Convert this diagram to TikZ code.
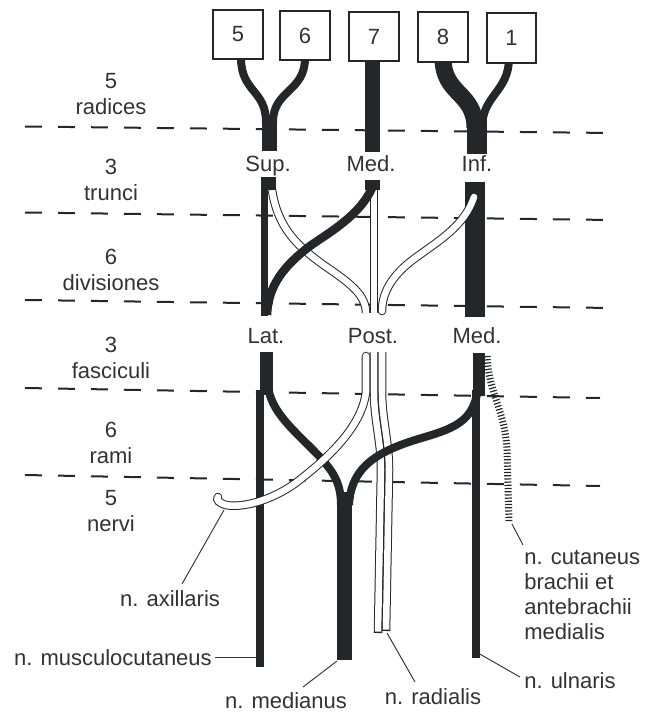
\documentclass[tikz,border=0pt]{standalone}
\usepackage{fontspec}
\setmainfont{Liberation Sans}
\definecolor{ink}{RGB}{36,38,42}
\definecolor{txt}{RGB}{50,50,50}
\newcommand\wstrand[2][]{\draw[outer,#1] #2; \draw[inner,#1] #2;}
\begin{document}
\begin{tikzpicture}[x=0.75pt,y=-0.75pt,
  lbl/.style={font=\fontsize{16.5}{19.5}\selectfont,text=txt,inner sep=0pt,align=center},
  numbox/.style={draw=ink,line width=1.5pt,fill=white,minimum width=37pt,minimum height=37pt,inner sep=0pt,font=\fontsize{16.5}{19.5}\selectfont,text=txt},
  level/.style={draw=ink,line width=1.5pt,dash pattern=on 12.75pt off 12pt},
  nerve/.style={draw=ink,line width=6pt},
  outer/.style={draw=ink,line width=6.4pt},
  inner/.style={draw=white,line width=4.9pt},
  lead/.style={draw=txt,line width=0.7pt},
  hatch/.style={draw=ink,line width=5.25pt,dash pattern=on 0.9pt off 1.5pt},
]
\useasboundingbox (0,0) rectangle (649,714);

% ---------- level lines ----------
\coordinate (d1a) at (25,126.5); \coordinate (d1b) at (612,133);
\coordinate (d2a) at (25,212.5); \coordinate (d2b) at (612,220);
\coordinate (d3a) at (25,300);   \coordinate (d3b) at (612,308);
\coordinate (d4a) at (25,388);   \coordinate (d4b) at (600,398);
\coordinate (d5a) at (25,475);   \coordinate (d5b) at (600,486);
\foreach \i in {1,...,5} {\draw[level] (d\i a) -- (d\i b);}

% ---------- level labels ----------
\node[lbl] (lv1) at (111,94)  {5\\radices};
\node[lbl] (lv2) at (111,180) {3\\trunci};
\node[lbl] (lv3) at (111,269.5) {6\\divisiones};
\node[lbl] (lv4) at (111,358) {3\\fasciculi};
\node[lbl] (lv5) at (111,443) {6\\rami};
\node[lbl] (lv6) at (111,511) {5\\nervi};

% ---------- radices and trunci ----------
\draw[nerve] (241,58) .. controls (241,92) and (266,90) .. (266,122);
\draw[nerve] (305,58) .. controls (305,92) and (273,90) .. (273,122);
\draw[ink,line width=11.25pt] (269.5,115) -- (269.5,151);
\draw[ink,line width=11.25pt] (372.5,58) -- (372.5,152);
\draw[ink,line width=12.75pt] (443,58) .. controls (443,95) and (475,92) .. (475,128);
\draw[nerve] (509,58) .. controls (509,92) and (482,95) .. (482,128);
\draw[ink,line width=15pt] (477,120) -- (477,154);

\node[numbox] (b5) at (238,34.5) {5};
\node[numbox] (b6) at (305,35.5) {6};
\node[numbox] (b7) at (374,36.5) {7};
\node[numbox] (b8) at (443,37)   {8};
\node[numbox] (b1) at (511.5,38) {1};

\node[lbl,anchor=base] (lsup)  at (268,171) {Sup.};
\node[lbl,anchor=base] (lmedt) at (371,171) {Med.};
\node[lbl,anchor=base] (linf)  at (477,171) {Inf.};

% ---------- divisiones ----------
\draw[ink,line width=15pt] (475,182) -- (475,317);
\wstrand{(272,190) .. controls (278,230) and (300,248) .. (325,266) .. controls (350,283) and (366,295) .. (366,313)}
\wstrand{(374,188) -- (374,313)}
\wstrand[line cap=round]{(474,197) .. controls (465,225) and (440,240) .. (418,256) .. controls (395,272) and (382,290) .. (382,311)}
\draw[ink,line width=11.25pt] (268.5,177) -- (268.5,190);
\draw[ink,line width=5.5pt] (264.5,177) -- (264.5,316);
\draw[ink,line width=11.25pt] (372.5,180) -- (372.5,190);
\draw[ink,line width=6.4pt] (372,188) .. controls (360,215) and (330,232) .. (310,246) .. controls (285,265) and (268,285) .. (267,315);

\node[lbl,anchor=base] (llat)  at (266,343) {Lat.};
\node[lbl,anchor=base] (lpost) at (373,343) {Post.};
\node[lbl,anchor=base] (lmedf) at (477,343) {Med.};

% ---------- fasciculi, rami, nervi ----------
\draw[ink,line width=9.75pt] (266.5,352) -- (266.5,395);
\draw[nerve] (260,390) -- (260,667);
\draw[nerve] (268,385) .. controls (270,412) and (296,432) .. (318,455) .. controls (334,472) and (341,484) .. (341,505);
% radialis (two strands)
\draw[outer] (374,352) -- (374,392) .. controls (374,420) and (381,440) .. (381,470) -- (378,633);
\draw[inner,shorten >=1pt] (374,352) -- (374,392) .. controls (374,420) and (381,440) .. (381,470) -- (378,633);
\draw[outer] (382,352) -- (382,392) .. controls (382,420) and (389,440) .. (389,470) -- (386,631);
\draw[inner,shorten >=1pt] (382,352) -- (382,392) .. controls (382,420) and (389,440) .. (389,470) -- (386,631);
% medial root of medianus
\draw[nerve] (478,385) .. controls (476,420) and (455,428) .. (425,437) .. controls (380,450) and (351,465) .. (349,505);
% medianus stem
\draw[ink,line width=11.25pt] (344.5,492) -- (344.5,660);
% medial fasciculus and ulnaris
\draw[ink,line width=9pt] (479,353) -- (479,396);
\draw[nerve] (475.5,390) -- (475.5,658);
% cutaneus (hatched)
\draw[hatch] (487,356) .. controls (489,395) and (505,410) .. (507,450) -- (509,522);
% axillaris
\wstrand[line cap=round]{(366,356) -- (366,392) .. controls (362,425) and (332,455) .. (297,482) .. controls (270,502) and (240,508) .. (226,505) .. controls (219,503) and (216,500) .. (218,497)}

% ---------- nerve labels ----------
\node[lbl,anchor=base] (naxil) at (170,606) {n. axillaris};
\node[lbl,anchor=base east] (nmusc) at (212,665) {n. musculocutaneus};
\node[lbl,anchor=base] (nmed) at (286,708) {n. medianus};
\node[lbl,anchor=base] (nrad) at (433,704) {n. radialis};
\node[lbl,anchor=base west] (nuln) at (524,688) {n. ulnaris};
\node[lbl,anchor=west,align=left,font=\fontsize{16.5}{18.75}\selectfont] (ncut) at (524,594.5) {n. cutaneus\\brachii et\\antebrachii\\medialis};

\coordinate (axtip) at (224,510);   \coordinate (axend) at (182,584);
\coordinate (mctip) at (257,657);   \coordinate (mcend) at (215,657);
\coordinate (mdtip) at (337,661);   \coordinate (mdend) at (303,687);
\coordinate (rdtip) at (387,633);   \coordinate (rdend) at (415,682);
\coordinate (ultip) at (478,653);   \coordinate (ulend) at (520,677);
\coordinate (cttip) at (512,524);   \coordinate (ctend) at (523,545);
\draw[lead] (axtip) -- (axend);
\draw[lead] (mctip) -- (mcend);
\draw[lead] (mdtip) -- (mdend);
\draw[lead] (rdtip) -- (rdend);
\draw[lead] (ultip) -- (ulend);
\draw[lead] (cttip) -- (ctend);
\end{tikzpicture}
\end{document}
